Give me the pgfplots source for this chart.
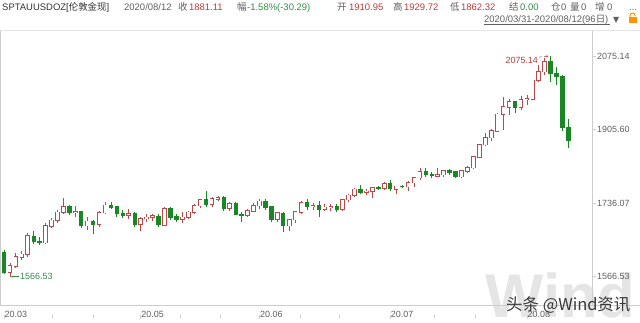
\documentclass[border=0pt]{standalone}
\usepackage{pgfplots}
\pgfplotsset{compat=1.18}
\usepackage{pgfplotstable}
\usetikzlibrary{arrows.meta}
\usepackage{fontspec}
\setmainfont{Liberation Sans}
\newfontfamily\cjk{Noto Sans CJK SC}
\newfontfamily\dejavu{DejaVu Sans}
\definecolor{upc}{RGB}{190,72,72}
\definecolor{dnc}{RGB}{25,135,35}
\definecolor{lblc}{RGB}{95,95,95}
\definecolor{axc}{RGB}{205,205,205}
\definecolor{valred}{RGB}{185,60,60}
\definecolor{valgrn}{RGB}{50,140,70}

% up candles (close >= open)
\pgfplotstableread{
i O H L C
1 1577 1598 1566.53 1591
2 1591 1622 1586 1612
3 1612 1626 1604 1618
4 1618 1668 1612 1660
7 1645 1690 1642 1683
8 1683 1702 1678 1696
9 1696 1720 1690 1715
10 1715 1747 1710 1727
12 1714 1730 1704 1716
14 1684 1703 1675 1694
16 1688 1718 1680 1714
17 1714 1738 1710 1731
21 1708 1722 1700 1712
23 1687 1705 1672 1700
24 1700 1712 1692 1703
25 1703 1711 1694 1706
27 1686 1727 1684 1723
30 1699 1715 1691 1703
31 1703 1717 1700 1715
32 1715 1734 1712 1730
33 1730 1746 1724 1743
35 1733 1750 1728 1746
36 1746 1752 1740 1748
38 1725 1738 1718 1735
41 1708 1722 1703 1718
42 1718 1737 1715 1730
43 1730 1745 1723 1740
46 1699 1716 1693 1713
48 1684 1700 1671 1698
49 1698 1718 1690 1716
50 1716 1740 1712 1737
52 1728 1737 1720 1730
54 1722 1735 1717 1726
55 1726 1734 1718 1727
57 1722 1746 1718 1744
58 1744 1758 1738 1754
59 1754 1770 1750 1768
61 1761 1768 1755 1763
62 1763 1772 1748 1771
64 1770 1785 1766 1781
66 1769 1776 1757 1775
68 1774 1786 1765 1783
69 1783 1797 1774 1795
70 1795 1818 1790 1809
73 1799 1818 1796 1802
74 1802 1813 1797 1810
77 1797 1812 1795 1810
78 1810 1822 1806 1818
79 1818 1844 1815 1842
80 1842 1872 1840 1871
81 1871 1898 1868 1887
82 1887 1906 1880 1902
83 1902 1945 1899 1941
84 1941 1981 1905 1958
85 1958 1976 1940 1970
87 1957 1984 1952 1975
88 1975 1986 1963 1976
89 1976 2021 1973 2019
90 2019 2055 2015 2039
91 2039 2070 2032 2062
}\uptab

% down candles (close < open)
\pgfplotstableread{
i O H L C
0 1622 1628 1573 1577
5 1660 1672 1642 1647
6 1647 1658 1640 1645
11 1727 1731 1709 1714
13 1716 1719 1678 1684
15 1694 1698 1666 1688
18 1731 1738 1722 1727
19 1727 1730 1705 1713
20 1713 1720 1701 1708
22 1712 1716 1681 1687
26 1706 1710 1682 1686
28 1723 1726 1696 1704
29 1704 1712 1692 1699
34 1744 1765 1726 1733
37 1748 1752 1718 1725
39 1735 1738 1708 1710
40 1710 1716 1693 1708
44 1740 1745 1720 1727
45 1727 1730 1693 1699
47 1713 1715 1670 1684
51 1737 1745 1720 1728
53 1730 1740 1704 1722
56 1727 1733 1715 1722
60 1768 1779 1757 1761
63 1771 1775 1766 1770
65 1781 1789 1764 1769
67 1775 1777 1770 1774
71 1809 1818 1796 1803
72 1803 1809 1795 1799
75 1810 1815 1802 1808
76 1808 1810 1795 1797
86 1970 1971 1945 1957
92 2062 2075.14 2015 2035
93 2035 2049 2009 2028
94 2028 2031 1903 1911
95 1910.95 1929.72 1862.32 1881.11
}\dntab

\begin{document}
\begin{tikzpicture}[x=1bp,y=1bp]
% watermark
\node[anchor=base west, inner sep=0, text=black!10, font=\fontsize{62}{62}\selectfont\bfseries] at (485,5) {Wind};

% frame lines
\draw[axc, line width=1bp] (0.5,17) -- (0.5,292);
\draw[axc, line width=0.8bp] (592,17) -- (592,292);
\draw[axc, line width=0.8bp] (0,17) -- (640,17);
\draw[black!10, line width=0.6bp] (0,292) -- (640,292);

\begin{axis}[
  at={(0,17)}, anchor=south west,
  width=592bp, height=275bp, scale only axis,
  xmin=-0.673, xmax=98.96, ymin=1478.88, ymax=2113.18,
  axis line style={draw=none},
  xtick={0,23,43,65,88},
  xticklabels={20.03,20.05,20.06,20.07,20.08},
  minor xtick={8.2,15.1,29.6,36.4,49.8,56.4,72.5,79.4},
  ytick={1566.53,1736.07,1905.60,2075.14},
  yticklabels={1566.53,1736.07,1905.60,2075.14},
  xtick pos=left, ytick pos=right,
  yticklabel pos=right,
  tick align=outside,
  major tick length=4bp, minor tick length=3bp,
  tick style={draw=axc, line width=0.7bp},
  ticklabel style={font=\fontsize{9}{10}\selectfont, text=lblc},
  xticklabel style={anchor=north west, inner sep=0pt, yshift=7.5bp, xshift=0.5bp},
  yticklabel style={anchor=west, inner sep=0pt, xshift=1bp},
  clip=false,
]
% up: wicks
\addplot[forget plot, draw=none, mark=none,
  error bars/.cd, y dir=plus, y explicit, error mark=none,
  error bar style={draw=upc, line width=0.8bp, solid}]
  table[x=i, y=L, y error plus expr={\thisrow{H}-\thisrow{L}}] {\uptab};
% up: bodies outer
\addplot[forget plot, draw=none, mark=none,
  error bars/.cd, y dir=plus, y explicit, error mark=none,
  error bar style={draw=upc, line width=4.6bp, solid, shorten <=-0.7bp, shorten >=-0.7bp}]
  table[x=i, y=O, y error plus expr={\thisrow{C}-\thisrow{O}}] {\uptab};
% up: bodies inner
\addplot[forget plot, draw=none, mark=none,
  error bars/.cd, y dir=plus, y explicit, error mark=none,
  error bar style={draw=white, line width=3.0bp, solid}]
  table[x=i, y=O, y error plus expr={\thisrow{C}-\thisrow{O}}] {\uptab};
% down: wicks
\addplot[forget plot, draw=none, mark=none,
  error bars/.cd, y dir=plus, y explicit, error mark=none,
  error bar style={draw=dnc, line width=0.8bp, solid}]
  table[x=i, y=L, y error plus expr={\thisrow{H}-\thisrow{L}}] {\dntab};
% down: bodies
\addplot[forget plot, draw=none, mark=none,
  error bars/.cd, y dir=plus, y explicit, error mark=none,
  error bar style={draw=dnc, line width=4.4bp, solid, shorten <=-0.6bp, shorten >=-0.6bp}]
  table[x=i, y=C, y error plus expr={\thisrow{O}-\thisrow{C}}] {\dntab};

% annotations
\node[anchor=east, inner sep=0, text=valred, font=\fontsize{9}{10}\selectfont]
  at ([xshift=-12.5bp,yshift=-4bp]axis cs:92,2075.14) {2075.14};
\draw[valred, densely dashed, line width=0.5bp, -{Stealth[length=2.5bp,width=2bp]}]
  ([xshift=-11.5bp,yshift=-1bp]axis cs:92,2075.14) -- ([xshift=-2bp]axis cs:92,2075.14);
\node[anchor=west, inner sep=0, text=valgrn, font=\fontsize{9}{10}\selectfont]
  at ([xshift=10bp]axis cs:1,1566.53) {1566.53};
\draw[valgrn, line width=0.5bp, -{Stealth[length=2.5bp,width=2bp]}]
  ([xshift=9bp]axis cs:1,1566.53) -- ([xshift=1bp]axis cs:1,1566.53);
\end{axis}

% header line 1
\begin{scope}[every node/.style={anchor=base west, inner sep=0, font=\fontsize{9.5}{10}\selectfont}]
\node[text=black!80] at (2,311.5) {SPTAUUSDOZ[{\cjk 伦敦金现}]};
\node[text=lblc] at (124,311.5) {2020/08/12};
\node[text=lblc] at (178,311.5) {\cjk 收};
\node[text=valred] at (189,311.5) {1881.11};
\node[text=lblc] at (237,311.5) {\cjk 幅};
\node[text=valgrn] at (247,311.5) {-1.58\%(-30.29)};
\node[text=lblc] at (337,311.5) {\cjk 开};
\node[text=valred] at (349,311.5) {1910.95};
\node[text=lblc] at (393,311.5) {\cjk 高};
\node[text=valred] at (404,311.5) {1929.72};
\node[text=lblc] at (450,311.5) {\cjk 低};
\node[text=valred] at (461,311.5) {1862.32};
\node[text=lblc] at (509,311.5) {\cjk 结};
\node[text=valgrn] at (520,311.5) {0.00};
\node[text=lblc] at (551,311.5) {\cjk 仓};
\node[text=lblc] at (561,311.5) {0};
\node[text=lblc] at (570,311.5) {\cjk 量};
\node[text=lblc] at (581,311.5) {0};
\node[text=lblc] at (595,311.5) {\cjk 增};
\node[text=lblc] at (607,311.5) {0};
\node[text=lblc] at (629,311.5) {...};
% header line 2
\node[text=lblc] at (484,299.5) {2020/03/31-2020/08/12(96{\cjk 日})};
\node[text=lblc, font=\dejavu\fontsize{8}{9}\selectfont] at (613,299.5) {▼};
\end{scope}
\draw[lblc, line width=0.5bp] (484,298) -- (610,298);
% lock icon
\fill[orange!85!yellow] (628.5,298.5) rectangle (636.5,304.5);
\draw[orange!85!yellow, line width=1bp] (630,304.5) -- (630,306.5) arc (180:0:2.5) -- (635,305.5);

% toutiao watermark
\node[anchor=west, inner sep=0, text=black!78, font=\cjk\fontsize{16.5}{17}\selectfont] at (506,17) {头条 @Wind资讯};

\pgfresetboundingbox
\useasboundingbox (0,0) rectangle (640,322);
\end{tikzpicture}
\end{document}
